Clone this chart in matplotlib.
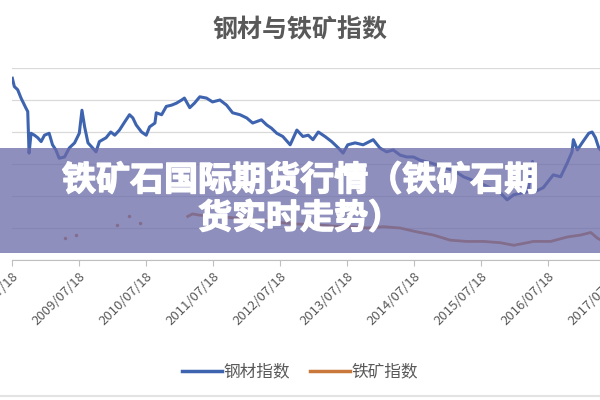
#!/usr/bin/env python3

import matplotlib
matplotlib.use("Agg")
import matplotlib.pyplot as plt
import matplotlib.patheffects as pe
from matplotlib.patches import Rectangle
from matplotlib.lines import Line2D

plt.rcParams['font.family'] = ['Noto Sans CJK SC', 'DejaVu Sans']

# steel index (x in fractional years)
steel_x = [2008.55, 2008.58, 2008.63, 2008.68, 2008.75, 2008.78, 2008.80, 2008.83, 2008.88, 2008.93,
           2008.98, 2009.03, 2009.10, 2009.15, 2009.20, 2009.25, 2009.33, 2009.40, 2009.48, 2009.55,
           2009.59, 2009.63, 2009.68, 2009.75, 2009.80, 2009.85, 2009.95, 2010.02, 2010.08, 2010.15,
           2010.23, 2010.30, 2010.35, 2010.40, 2010.48, 2010.55, 2010.60, 2010.68, 2010.70, 2010.78,
           2010.85, 2010.93, 2011.00, 2011.08, 2011.12, 2011.20, 2011.27, 2011.35, 2011.45, 2011.54,
           2011.65, 2011.75, 2011.84, 2011.95, 2012.05, 2012.14, 2012.27, 2012.35, 2012.42, 2012.50,
           2012.59, 2012.70, 2012.80, 2012.89, 2012.97, 2013.04, 2013.12, 2013.22, 2013.32, 2013.42,
           2013.49, 2013.56, 2013.67, 2013.79, 2013.94, 2014.04, 2014.14, 2014.24, 2014.34, 2014.44,
           2014.54, 2014.64, 2014.79, 2015.02, 2015.17, 2015.29, 2015.54, 2015.66, 2015.84, 2015.94,
           2016.04, 2016.25, 2016.32, 2016.36, 2016.48, 2016.63, 2016.74, 2016.84, 2016.91, 2016.93,
           2016.99, 2017.06, 2017.16, 2017.21, 2017.26, 2017.31, 2017.40]
steel_y = [284, 271, 266, 253, 238, 232, 167, 198, 195, 191,
           185, 195, 198, 180, 172, 159, 161, 175, 183, 198,
           234, 208, 183, 175, 169, 185, 191, 200, 195, 203,
           216, 227, 222, 211, 200, 195, 208, 214, 230, 227,
           240, 242, 245, 250, 253, 238, 245, 255, 253, 247,
           250, 242, 230, 227, 222, 214, 219, 211, 206, 198,
           193, 180, 203, 193, 195, 188, 200, 193, 185, 175,
           167, 180, 183, 180, 188, 175, 169, 172, 164, 161,
           161, 156, 152, 144, 138, 130, 120, 114, 105, 94,
           102, 107, 154, 107, 113, 133, 130, 152, 169, 188,
           172, 183, 198, 200, 191, 175, 165]

# iron ore index: a few scattered early points, then a continuous line
ore_dot_x = [2009.33, 2009.50, 2010.12, 2010.30, 2010.45]
ore_dot_y = [34, 39, 55, 68, 58]
ore_x = [2011.17, 2011.24, 2011.35, 2011.57, 2011.84, 2012.10, 2012.35, 2012.59, 2012.85, 2013.10,
         2013.34, 2013.59, 2013.85, 2014.09, 2014.34, 2014.59, 2014.84, 2015.09, 2015.34, 2015.59,
         2015.84, 2016.04, 2016.24, 2016.33, 2016.59, 2016.84, 2017.04, 2017.19, 2017.29, 2017.40]
ore_y = [68, 72, 70, 69, 66, 64, 61, 58, 56, 55,
         53, 52, 50, 52, 50, 44, 39, 31, 29, 29,
         27, 23, 27, 29, 29, 36, 39, 43, 34, 28]

tick_years = list(range(2008, 2018))
tick_labels = [f"{y}/07/18" for y in tick_years]

title = "钢材与铁矿指数"
series_names = ["钢材指数", "铁矿指数"]
banner_lines = ["铁矿石国际期货行情（铁矿石期", "货实时走势）"]

blue = '#3E64B0'
brown = '#C9773A'
grey_txt = '#595959'

fig = plt.figure(figsize=(6, 4), dpi=100)
# plot area runs off the right edge like the cropped original
ax = fig.add_axes([0.02, 0.35, 1.055, 0.48])

ax.plot(steel_x, steel_y, color=blue, lw=2.2, solid_joinstyle='round')
ax.plot(ore_x, ore_y, color=brown, lw=2.0)
ax.plot(ore_dot_x, ore_dot_y, 'o', color=brown, ms=2.5, mec='none')

ax.set_xlim(2008.545, 2018.0)
ax.set_ylim(0, 300)
ax.set_yticks(range(0, 301, 50))
ax.set_yticklabels([])
ax.tick_params(axis='y', length=0)
ax.grid(axis='y', color='#D9D9D9', lw=0.9)
ax.set_axisbelow(True)

ax.set_xticks([y + 0.545 for y in tick_years])
ax.set_xticklabels(tick_labels, rotation=45, ha='right', rotation_mode='anchor',
                   fontsize=9.5, color=grey_txt)
ax.tick_params(axis='x', length=4, color='#BFBFBF', pad=3)

for s in ['top', 'right', 'left']:
    ax.spines[s].set_visible(False)
ax.spines['bottom'].set_color('#BFBFBF')

fig.text(0.5, 1 - 30 / 400, title, ha='center', va='center', fontsize=18,
         fontweight='bold', color=grey_txt)

handles = [Line2D([], [], color=blue, lw=2.5), Line2D([], [], color=brown, lw=2.5)]
fig.legend(handles, series_names, loc='center', bbox_to_anchor=(0.5, 1 - 372 / 400),
           ncol=2, frameon=False, fontsize=12, handlelength=2.4, handletextpad=0.1,
           columnspacing=1.2, labelcolor=grey_txt)

fig.add_artist(Line2D([0, 1], [1 - 396 / 400] * 2, transform=fig.transFigure,
                      color='#E3E3E3', lw=1.5))

# the overlay banner
fig.add_artist(Rectangle((0, 1 - 253 / 400), 1, 105 / 400, transform=fig.transFigure,
                         facecolor='#6A6AA8', alpha=0.75, edgecolor='none', zorder=5))
thick = [pe.withStroke(linewidth=1.0, foreground='white')]
fig.text(0.5, 1 - 180 / 400, banner_lines[0], ha='center', va='center', fontsize=24.5,
         fontweight='bold', color='white', zorder=6, path_effects=thick)
fig.text(0.5, 1 - 218 / 400, banner_lines[1], ha='center', va='center', fontsize=24.5,
         fontweight='bold', color='white', zorder=6, path_effects=thick)

fig.savefig('out.png', dpi=100)
